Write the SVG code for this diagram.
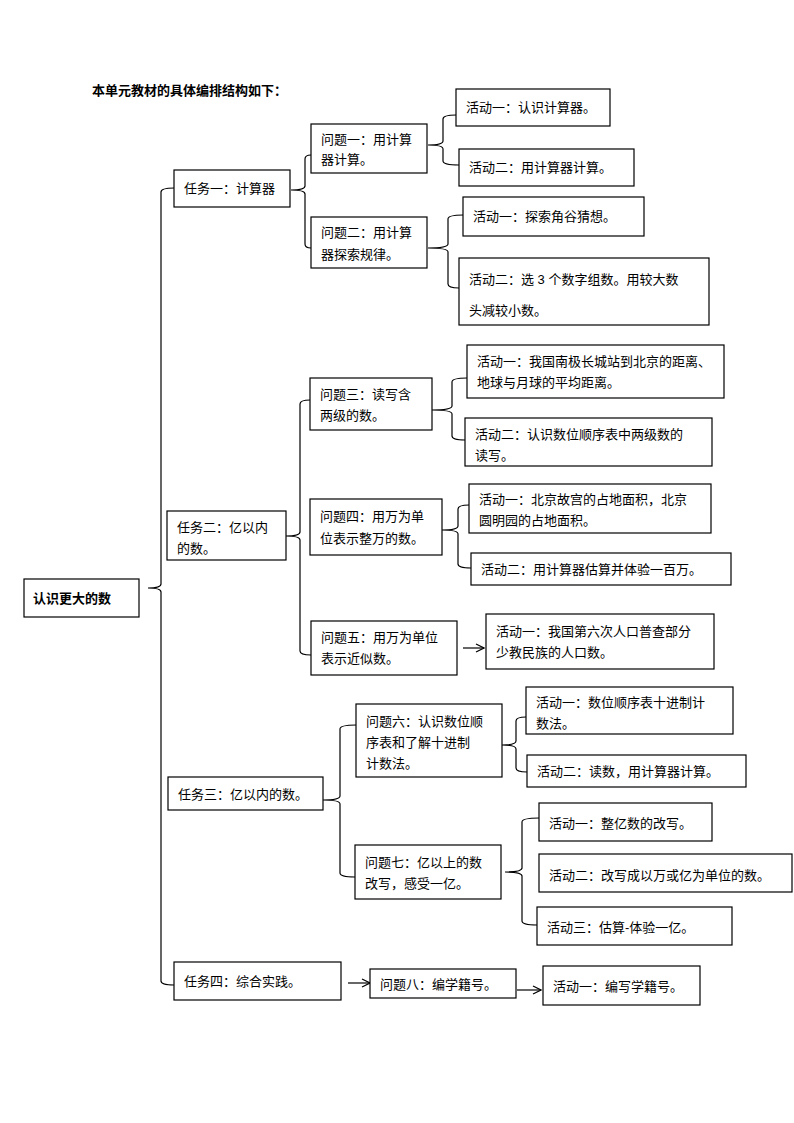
<svg xmlns="http://www.w3.org/2000/svg" width="794" height="1123" viewBox="0 0 794 1123">
<style>
rect{fill:#fff;stroke:#000;stroke-width:1.2}
text{font-family:"Liberation Sans","Noto Sans CJK SC",sans-serif;font-size:13px;fill:#000}
.b{font-weight:bold}
path{fill:none;stroke:#000;stroke-width:1.2}
</style>
<defs><marker id="a" markerWidth="10" markerHeight="10" refX="9" refY="5" orient="auto" markerUnits="userSpaceOnUse"><path d="M1,1 L9,5 L1,9"/></marker></defs>
<rect x="0" y="0" width="794" height="1123" style="stroke:none"/>
<text class="b" x="92" y="95">本单元教材的具体编排结构如下：</text>
<g id="connectors">
<path d="M174,188 Q161,188 161,192 V584 Q161,588 148,588 Q161,588 161,592 V981 Q161,985 174,985"/>
<path d="M311,155 Q305,155 305,159 V186 Q305,190 291,190 Q305,190 305,194 V244 Q305,248 311,248"/>
<path d="M456,115 Q443,115 443,119 V141 Q443,145 428,145 Q443,145 443,149 V161 Q443,165 459,165"/>
<path d="M463,215 Q448,215 448,219 V244 Q448,248 428,248 Q448,248 448,252 V284 Q448,288 459,288"/>
<path d="M310,400 Q300,400 300,404 V532 Q300,536 286,536 Q300,536 300,540 V651 Q300,655 311,655"/>
<path d="M467,378 Q452,378 452,382 V406 Q452,410 432,410 Q452,410 452,414 V436 Q452,440 465,440"/>
<path d="M469,505 Q458,505 458,509 V526 Q458,530 442,530 Q458,530 458,534 V564 Q458,568 471,568"/>
<path d="M463,648 H484" marker-end="url(#a)"/>
<path d="M356,725 Q340,725 340,729 V796 Q340,800 323,800 Q340,800 340,804 V873 Q340,877 355,877"/>
<path d="M526,717 Q516,717 516,721 V741 Q516,745 502,745 Q516,745 516,749 V768 Q516,772 527,772"/>
<path d="M539,818 Q522,818 522,822 V868 Q522,872 505,872 Q522,872 522,876 V921 Q522,925 537,925"/>
<path d="M348,983 H370" marker-end="url(#a)"/>
<path d="M517,990 H541" marker-end="url(#a)"/>
</g>
<g id="root"><rect x="24" y="579" width="115" height="38"/><text class="b" x="33" y="603">认识更大的数</text></g>
<g id="t1"><rect x="174" y="170" width="116" height="37"/><text x="184" y="193">任务一：计算器</text></g>
<g id="q1"><rect x="311" y="124" width="116" height="49"/><text x="321" y="144">问题一：用计算</text><text x="321" y="164">器计算。</text></g>
<g id="q2"><rect x="311" y="217" width="116" height="51"/><text x="321" y="237">问题二：用计算</text><text x="321" y="259">器探索规律。</text></g>
<g id="a11"><rect x="456" y="89" width="154" height="37"/><text x="466" y="112">活动一：认识计算器。</text></g>
<g id="a12"><rect x="459" y="149" width="175" height="37"/><text x="469" y="172">活动二：用计算器计算。</text></g>
<g id="a21"><rect x="463" y="197" width="181" height="39"/><text x="473" y="221">活动一：探索角谷猜想。</text></g>
<g id="a22"><rect x="459" y="258" width="250" height="67"/><text x="469" y="284">活动二：选 3 个数字组数。用较大数</text><text x="469" y="315">头减较小数。</text></g>
<g id="t2"><rect x="167" y="511" width="119" height="49"/><text x="177" y="532">任务二：亿以内</text><text x="177" y="553">的数。</text></g>
<g id="q3"><rect x="310" y="378" width="122" height="52"/><text x="320" y="399">问题三：读写含</text><text x="320" y="420">两级的数。</text></g>
<g id="q4"><rect x="310" y="499" width="132" height="56"/><text x="320" y="521">问题四：用万为单</text><text x="320" y="543">位表示整万的数。</text></g>
<g id="q5"><rect x="311" y="621" width="146" height="54"/><text x="321" y="642">问题五：用万为单位</text><text x="321" y="663">表示近似数。</text></g>
<g id="a31"><rect x="467" y="345" width="257" height="53"/><text x="477" y="366">活动一：我国南极长城站到北京的距离、</text><text x="477" y="387">地球与月球的平均距离。</text></g>
<g id="a32"><rect x="465" y="418" width="247" height="48"/><text x="475" y="439">活动二：认识数位顺序表中两级数的</text><text x="475" y="460">读写。</text></g>
<g id="a41"><rect x="469" y="484" width="242" height="49"/><text x="479" y="504">活动一：北京故宫的占地面积，北京</text><text x="479" y="525">圆明园的占地面积。</text></g>
<g id="a42"><rect x="471" y="553" width="260" height="32"/><text x="481" y="574">活动二：用计算器估算并体验一百万。</text></g>
<g id="a51"><rect x="486" y="614" width="228" height="55"/><text x="496" y="636">活动一：我国第六次人口普查部分</text><text x="496" y="657">少教民族的人口数。</text></g>
<g id="t3"><rect x="168" y="777" width="155" height="33"/><text x="178" y="799">任务三：亿以内的数。</text></g>
<g id="q6"><rect x="356" y="704" width="146" height="73"/><text x="366" y="726">问题六：认识数位顺</text><text x="366" y="747">序表和了解十进制</text><text x="366" y="768">计数法。</text></g>
<g id="a61"><rect x="526" y="687" width="207" height="47"/><text x="536" y="707">活动一：数位顺序表十进制计</text><text x="536" y="728">数法。</text></g>
<g id="a62"><rect x="527" y="755" width="219" height="32"/><text x="537" y="776">活动二：读数，用计算器计算。</text></g>
<g id="q7"><rect x="355" y="845" width="146" height="54"/><text x="365" y="867">问题七：亿以上的数</text><text x="365" y="888">改写，感受一亿。</text></g>
<g id="a71"><rect x="539" y="803" width="173" height="38"/><text x="549" y="828">活动一：整亿数的改写。</text></g>
<g id="a72"><rect x="539" y="854" width="253" height="38"/><text x="549" y="880">活动二：改写成以万或亿为单位的数。</text></g>
<g id="a73"><rect x="537" y="907" width="195" height="38"/><text x="547" y="932">活动三：估算-体验一亿。</text></g>
<g id="t4"><rect x="174" y="962" width="167" height="38"/><text x="184" y="986">任务四：综合实践。</text></g>
<g id="q8"><rect x="370" y="969" width="146" height="29"/><text x="380" y="989">问题八：编学籍号。</text></g>
<g id="a81"><rect x="543" y="966" width="157" height="39"/><text x="553" y="991">活动一：编写学籍号。</text></g>
</svg>
